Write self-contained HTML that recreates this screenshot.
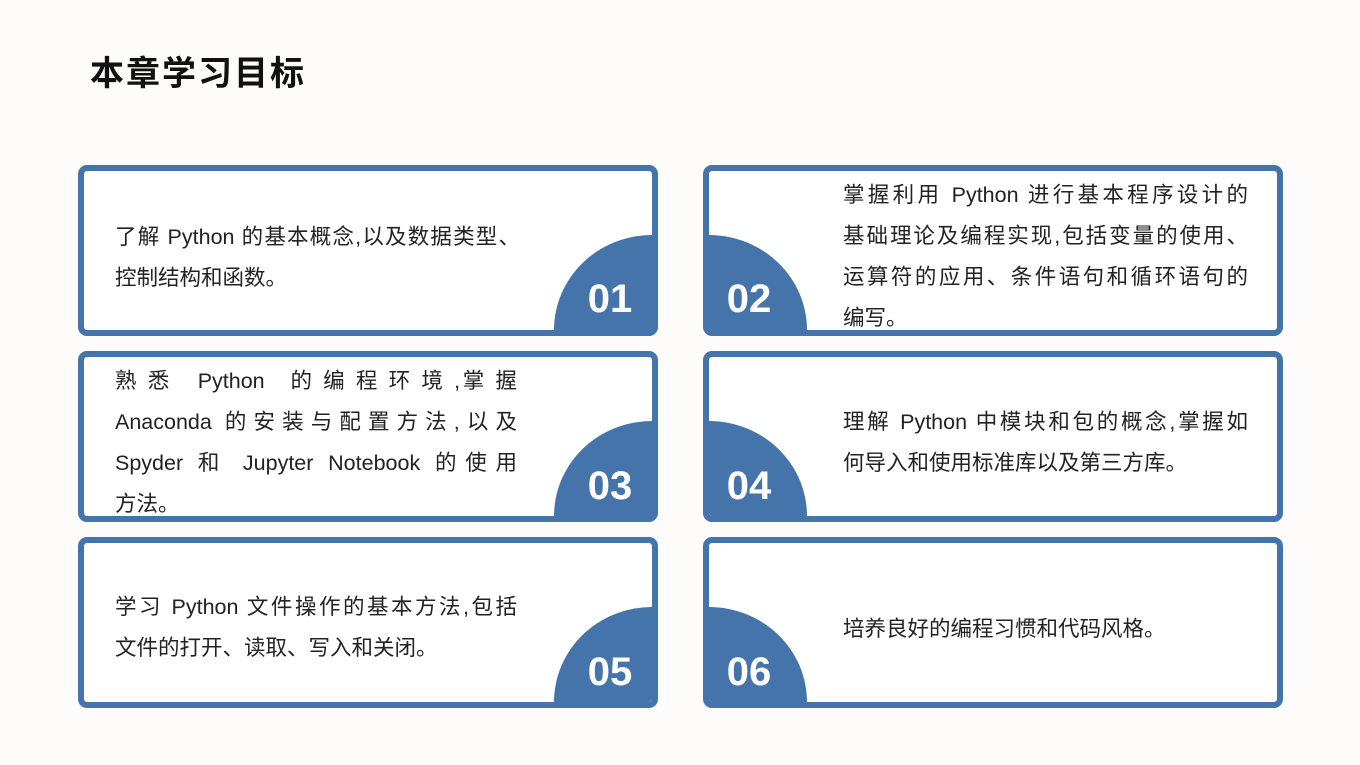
<!DOCTYPE html>
<html><head><meta charset="utf-8"><style>
body{margin:0;background:#fdfcfa;}
.wrap{position:relative;width:1360px;height:765px;overflow:hidden;font-family:"Liberation Sans","Noto Sans CJK SC",sans-serif;}
.title{position:absolute;left:90px;top:46px;font-size:34px;font-weight:bold;color:#111;letter-spacing:2px;}
.card{position:absolute;width:568px;height:159px;border:6px solid #4474aa;border-radius:9px;background:#fff;overflow:hidden;}
.q{position:absolute;bottom:0;width:98px;height:95px;background:#4474aa;}
.ql{right:0;border-top-left-radius:98px 95px;}
.qr{left:0;border-top-right-radius:98px 95px;}
.num{position:absolute;color:#fff;font-weight:bold;font-size:40px;width:100px;text-align:center;}
.txt{position:absolute;width:405px;font-size:21.5px;line-height:41px;color:#222;}
.txt div{text-align:justify;text-align-last:justify;white-space:nowrap;}
.txt div.l{text-align-last:left;}
</style></head><body><div class="wrap">
<div class="title">本章学习目标</div>

<div class="card" style="left:78px;top:165px"><div class="q ql"></div></div>
<div class="card" style="left:703px;top:165px"><div class="q qr"></div></div>
<div class="card" style="left:78px;top:351px"><div class="q ql"></div></div>
<div class="card" style="left:703px;top:351px"><div class="q qr"></div></div>
<div class="card" style="left:78px;top:537px"><div class="q ql"></div></div>
<div class="card" style="left:703px;top:537px"><div class="q qr"></div></div>

<div class="num" style="left:560px;top:277px">01</div>
<div class="num" style="left:699px;top:277px">02</div>
<div class="num" style="left:560px;top:464px">03</div>
<div class="num" style="left:699px;top:464px">04</div>
<div class="num" style="left:560px;top:650px">05</div>
<div class="num" style="left:699px;top:650px">06</div>

<div class="txt" style="left:115px;top:217px"><div>了解 Python 的基本概念,以及数据类型、</div><div class="l">控制结构和函数。</div></div>
<div class="txt" style="left:843px;top:175px"><div>掌握利用 Python 进行基本程序设计的</div><div>基础理论及编程实现,包括变量的使用、</div><div>运算符的应用、条件语句和循环语句的</div><div class="l">编写。</div></div>
<div class="txt" style="left:115px;top:361px;width:402px"><div>熟 悉 &nbsp; Python &nbsp; 的 编 程 环 境 ,掌 握</div><div>Anaconda 的安装与配置方法,以及</div><div>Spyder 和 Jupyter Notebook 的使用</div><div class="l">方法。</div></div>
<div class="txt" style="left:843px;top:402px"><div>理解 Python 中模块和包的概念,掌握如</div><div class="l">何导入和使用标准库以及第三方库。</div></div>
<div class="txt" style="left:115px;top:587px;width:402px"><div>学习 Python 文件操作的基本方法,包括</div><div class="l">文件的打开、读取、写入和关闭。</div></div>
<div class="txt" style="left:843px;top:609px"><div class="l">培养良好的编程习惯和代码风格。</div></div>
</div></body></html>
